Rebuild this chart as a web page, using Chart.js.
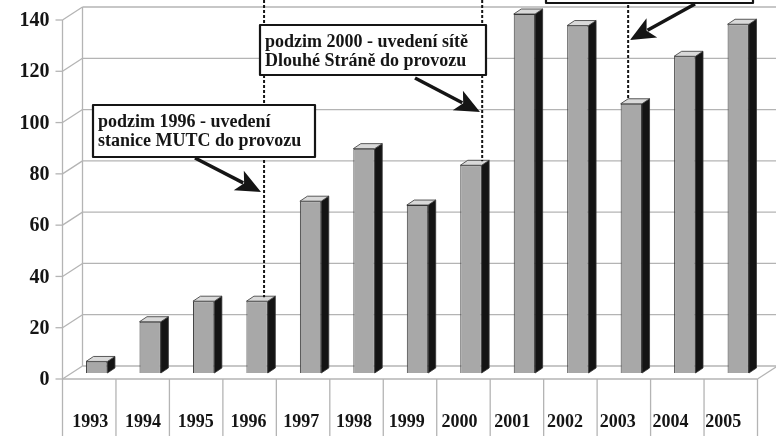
<!DOCTYPE html>
<html>
<head>
<meta charset="utf-8">
<script src="https://cdn.jsdelivr.net/npm/chart.js@4.4.1/dist/chart.umd.min.js"></script>
<style>
  html, body { margin: 0; padding: 0; background: #fff; }
  canvas { display: block; }
</style>
</head>
<body>
<canvas id="chart" width="776" height="436"></canvas>
<script>
// ===== Data =====
const years = ['1993', '1994', '1995', '1996', '1997', '1998', '1999',
               '2000', '2001', '2002', '2003', '2004', '2005'];
const counts = [4.5, 20, 28, 28, 67, 87.5, 65.5, 81, 140, 135.5, 105, 123.5, 136];
const yTicks = [0, 20, 40, 60, 80, 100, 120, 140];

// Milestones: dashed line over a year, ending on that year's bar
const milestones = [
  { year: '1996', shift: 0.13 },
  { year: '2000', shift: 0.21 },
  { year: '2003', shift: -0.06 },
];

// Callout boxes with arrows pointing at the milestone lines
const callouts = [
  { lines: ['podzim 1996 - uvedení', 'stanice MUTC do provozu'],
    box: [93, 105, 315, 157], from: [195, 158], to: [261, 192] },
  { lines: ['podzim 2000 - uvedení sítě', 'Dlouhé Stráně do provozu'],
    box: [260, 25, 486, 75], from: [415, 78], to: [480, 112] },
  { lines: [],
    box: [546, -40, 753, 3], from: [695, 4], to: [630, 40] },
];

// ===== Look =====
const FRONT = { dx: -7.5, dy: 6 };   // front plane relative to the bar plane
const BACK = { dx: 12.5, dy: -7 };   // back wall relative to the bar plane
const DEPTH = { dx: 7.5, dy: -5 };   // bar depth
const GRID = '#b4b4b4';
const INK = '#151515';
const SERIF = '"Liberation Serif", "Times New Roman", serif';

function line(ctx, x1, y1, x2, y2) {
  ctx.beginPath();
  ctx.moveTo(x1, y1);
  ctx.lineTo(x2, y2);
  ctx.stroke();
}

function poly(ctx, pts, fill) {
  ctx.beginPath();
  pts.forEach(([px, py], i) => (i ? ctx.lineTo(px, py) : ctx.moveTo(px, py)));
  ctx.closePath();
  ctx.fillStyle = fill;
  ctx.fill();
  ctx.stroke();
}

function arrow(ctx, [x1, y1], [x2, y2]) {
  const ang = Math.atan2(y2 - y1, x2 - x1);
  const len = 25, half = 11;
  const bx = x2 - Math.cos(ang) * len;
  const by = y2 - Math.sin(ang) * len;
  ctx.strokeStyle = INK;
  ctx.lineWidth = 3.5;
  line(ctx, x1, y1, bx + Math.cos(ang) * 5, by + Math.sin(ang) * 5);
  ctx.beginPath();
  ctx.moveTo(x2, y2);
  ctx.lineTo(bx - Math.sin(ang) * half, by + Math.cos(ang) * half);
  ctx.lineTo(bx + Math.cos(ang) * 6, by + Math.sin(ang) * 6);
  ctx.lineTo(bx + Math.sin(ang) * half, by - Math.cos(ang) * half);
  ctx.closePath();
  ctx.fillStyle = INK;
  ctx.fill();
}

// ===== 3D frame, axes and labels =====
const frame3d = {
  id: 'frame3d',
  beforeDatasetsDraw(chart) {
    const { ctx, chartArea: area, scales: { x, y } } = chart;
    const fy = (v) => y.getPixelForValue(v) + FRONT.dy;
    const byy = (v) => y.getPixelForValue(v) + BACK.dy;
    const fl = area.left + FRONT.dx, fr = area.right + FRONT.dx;
    const bl = area.left + BACK.dx, br = area.right + BACK.dx;
    const top = yTicks[yTicks.length - 1];

    ctx.save();
    ctx.strokeStyle = GRID;
    ctx.lineWidth = 1.3;

    // back wall grid + left wall
    yTicks.forEach((v) => {
      line(ctx, bl, byy(v), br + 20, byy(v));
      line(ctx, fl, fy(v), bl, byy(v));
      line(ctx, fl - 7, fy(v), fl, fy(v));
    });
    line(ctx, fl, fy(0), fl, fy(top));
    line(ctx, bl, byy(0), bl, byy(top));

    // floor edges
    line(ctx, fl, fy(0), fr, fy(0));
    line(ctx, fr, fy(0), br, byy(0));

    // category table below the floor
    for (let i = 0; i <= years.length; i++) {
      const cx = x.getPixelForValue(i - 0.5) + FRONT.dx;
      line(ctx, cx, fy(0), cx, chart.height);
    }

    // value labels
    ctx.fillStyle = INK;
    ctx.font = `bold 20px ${SERIF}`;
    ctx.textAlign = 'right';
    ctx.textBaseline = 'middle';
    yTicks.forEach((v) => ctx.fillText(String(v), fl - 13, fy(v) + 1));

    // year labels
    ctx.font = `bold 18px ${SERIF}`;
    ctx.textAlign = 'center';
    ctx.textBaseline = 'alphabetic';
    years.forEach((yr, i) => {
      const lx = x.getPixelForValue(i) - 6.5 - 0.7 * i;
      ctx.fillText(yr, lx, fy(0) + 48);
    });
    ctx.restore();
  },

  afterDatasetsDraw(chart) {
    const { ctx, scales: { x, y } } = chart;
    const bars = chart.getDatasetMeta(0).data;

    ctx.save();
    ctx.strokeStyle = '#333';
    ctx.lineWidth = 0.8;
    ctx.lineJoin = 'round';
    bars.forEach((bar) => {
      const l = bar.x - bar.width / 2, r = bar.x + bar.width / 2;
      const t = bar.y, b = bar.base;
      poly(ctx, [[r, t], [r + DEPTH.dx, t + DEPTH.dy], [r + DEPTH.dx, b + DEPTH.dy], [r, b]], '#141414');
      poly(ctx, [[l, t], [r, t], [r + DEPTH.dx, t + DEPTH.dy], [l + DEPTH.dx, t + DEPTH.dy]], '#d9d9d9');
    });

    // milestone lines
    ctx.strokeStyle = INK;
    ctx.lineWidth = 2;
    ctx.setLineDash([3, 2]);
    milestones.forEach((m) => {
      const i = years.indexOf(m.year);
      const mx = x.getPixelForValue(i + m.shift);
      line(ctx, mx, 0, mx, y.getPixelForValue(counts[i]) - 4);
    });
    ctx.setLineDash([]);

    // callouts
    callouts.forEach((c) => {
      const [x1, y1, x2, y2] = c.box;
      ctx.fillStyle = '#fff';
      ctx.fillRect(x1, y1, x2 - x1, y2 - y1);
      ctx.strokeStyle = INK;
      ctx.lineWidth = 2.2;
      ctx.strokeRect(x1, y1, x2 - x1, y2 - y1);
      ctx.fillStyle = INK;
      ctx.font = `bold 18px ${SERIF}`;
      ctx.textAlign = 'left';
      ctx.textBaseline = 'alphabetic';
      c.lines.forEach((txt, k) => ctx.fillText(txt, x1 + 5, y1 + 22 + k * 18.5));
      arrow(ctx, c.from, c.to);
    });
    ctx.restore();
  },
};

// ===== Chart =====
new Chart(document.getElementById('chart'), {
  type: 'bar',
  data: {
    labels: years,
    datasets: [{
      data: counts,
      backgroundColor: '#a8a8a8',
      borderColor: '#3a3a3a',
      borderWidth: 1,
      barPercentage: 0.4,
      categoryPercentage: 1.0,
    }],
  },
  options: {
    responsive: false,
    animation: false,
    layout: { padding: { left: 70, right: 11, top: 14, bottom: 63 } },
    scales: {
      x: { display: false },
      y: { display: false, min: 0, max: 140 },
    },
    plugins: { legend: { display: false }, tooltip: { enabled: false } },
  },
  plugins: [frame3d],
});
</script>
</body>
</html>
